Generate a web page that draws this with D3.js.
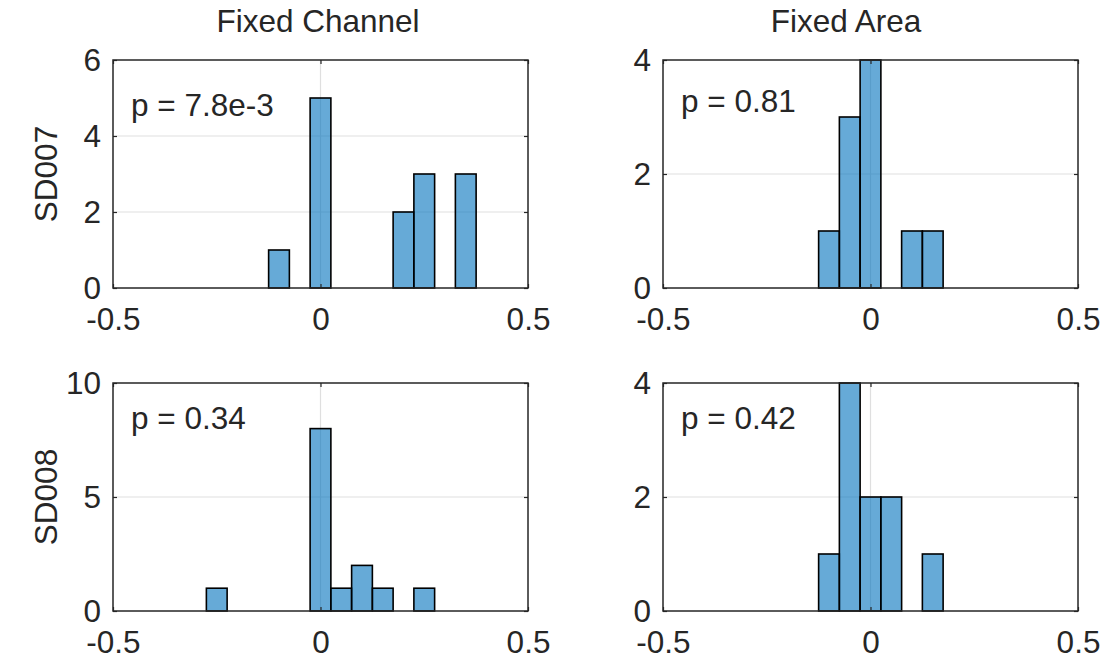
<!DOCTYPE html>
<html>
<head>
<meta charset="utf-8">
<script src="https://cdn.jsdelivr.net/npm/d3@7"></script>
<style>
  html, body { margin: 0; padding: 0; background: #fff; }
  svg text { font-family: "Liberation Sans", Arial, Helvetica, sans-serif; fill: #262626; }
</style>
</head>
<body>
<svg id="chart" width="1106" height="662"></svg>
<script>
// Histogram bins: width 0.05, centres on multiples of 0.05
const binWidth = 0.05;
const xTicks = [-0.5, 0, 0.5];

const columnTitles = ["Fixed Channel", "Fixed Area"];
const rowTitles = ["SD007", "SD008"];

const sd007ChannelCenters = [-0.1, 0, 0.2, 0.25, 0.35];
const sd007ChannelCounts  = [1, 5, 2, 3, 3];
const sd007AreaCenters    = [-0.1, -0.05, 0, 0.1, 0.15];
const sd007AreaCounts     = [1, 3, 4, 1, 1];
const sd008ChannelCenters = [-0.25, 0, 0.05, 0.1, 0.15, 0.25];
const sd008ChannelCounts  = [1, 8, 1, 2, 1, 1];
const sd008AreaCenters    = [-0.1, -0.05, 0, 0.05, 0.15];
const sd008AreaCounts     = [1, 4, 2, 2, 1];

const pLabels = ["p = 7.8e-3", "p = 0.81", "p = 0.34", "p = 0.42"];
const yMax    = [6, 4, 10, 4];
const yTicks  = [[0, 2, 4, 6], [0, 2, 4], [0, 5, 10], [0, 2, 4]];

const panels = [
  { centers: sd007ChannelCenters, counts: sd007ChannelCounts },
  { centers: sd007AreaCenters,    counts: sd007AreaCounts },
  { centers: sd008ChannelCenters, counts: sd008ChannelCounts },
  { centers: sd008AreaCenters,    counts: sd008AreaCounts }
].map((p, i) => ({ ...p, label: pLabels[i], ymax: yMax[i], yticks: yTicks[i] }));

// Layout
const colX = [113, 663];
const rowY = [60, 383];
const pw = 415, ph = 228;
const fontSize = 31.5;
const labelBaseline = [56, 52, 46, 46];   // p-label baseline below each panel's top edge
const titleCenters = [318, 846];
const axisColor = "#262626";
const gridColor = "#dfdfdf";
const barFill = "#0072bd";

const svg = d3.select("#chart");
const tickFmt = d => String(d);   // plain hyphen for negatives

panels.forEach((p, i) => {
  const col = i % 2, row = Math.floor(i / 2);
  const g = svg.append("g").attr("transform", `translate(${colX[col]},${rowY[row]})`);

  const x = d3.scaleLinear().domain([-0.5, 0.5]).range([0, pw]);
  const y = d3.scaleLinear().domain([0, p.ymax]).range([ph, 0]);

  // grid
  g.append("g").selectAll("line").data(p.yticks.filter(t => t > 0 && t < p.ymax))
    .join("line").attr("x1", 0).attr("x2", pw)
    .attr("y1", d => y(d)).attr("y2", d => y(d))
    .attr("stroke", gridColor).attr("stroke-width", 1.2);
  g.append("g").selectAll("line").data(xTicks.filter(t => t > -0.5 && t < 0.5))
    .join("line").attr("y1", 0).attr("y2", ph)
    .attr("x1", d => x(d)).attr("x2", d => x(d))
    .attr("stroke", gridColor).attr("stroke-width", 1.2);

  // bars
  const bins = p.centers.map((c, k) => ({ x0: c - binWidth / 2, x1: c + binWidth / 2, n: p.counts[k] }));
  g.append("g").selectAll("rect").data(bins).join("rect")
    .attr("x", d => x(d.x0))
    .attr("width", d => x(d.x1) - x(d.x0))
    .attr("y", d => y(d.n))
    .attr("height", d => y(0) - y(d.n))
    .attr("fill", barFill).attr("fill-opacity", 0.6)
    .attr("stroke", "#000").attr("stroke-width", 1.6);

  // axes (inward ticks on all sides)
  const tl = 4;
  const bottom = g.append("g").attr("transform", `translate(0,${ph})`)
    .call(d3.axisBottom(x).tickValues(xTicks).tickSize(-tl).tickPadding(20).tickFormat(tickFmt));
  const top = g.append("g")
    .call(d3.axisTop(x).tickValues(xTicks).tickSize(-tl).tickFormat(""));
  const left = g.append("g")
    .call(d3.axisLeft(y).tickValues(p.yticks).tickSize(-tl).tickPadding(12).tickFormat(tickFmt));
  const right = g.append("g").attr("transform", `translate(${pw},0)`)
    .call(d3.axisRight(y).tickValues(p.yticks).tickSize(-tl).tickFormat(""));
  [bottom, top, left, right].forEach(a => {
    a.select(".domain").remove();
    a.selectAll(".tick line").attr("stroke", axisColor).attr("stroke-width", 1.2);
    a.selectAll(".tick text").attr("font-size", fontSize).attr("fill", axisColor)
      .style("font-family", '"Liberation Sans", Arial, sans-serif');
  });

  // box
  g.append("rect").attr("width", pw).attr("height", ph)
    .attr("fill", "none").attr("stroke", axisColor).attr("stroke-width", 1.5);

  // p-value label
  g.append("text").attr("x", 18).attr("y", labelBaseline[i])
    .attr("font-size", fontSize).attr("fill", "#000").text(p.label);
});

// column titles
columnTitles.forEach((t, c) => {
  svg.append("text").attr("x", titleCenters[c]).attr("y", 32)
    .attr("text-anchor", "middle").attr("font-size", fontSize).attr("fill", "#000").text(t);
});

// row titles
rowTitles.forEach((t, r) => {
  svg.append("text")
    .attr("transform", `translate(57,${rowY[r] + ph / 2}) rotate(-90)`)
    .attr("text-anchor", "middle").attr("font-size", fontSize).attr("fill", "#000").text(t);
});
</script>
</body>
</html>
